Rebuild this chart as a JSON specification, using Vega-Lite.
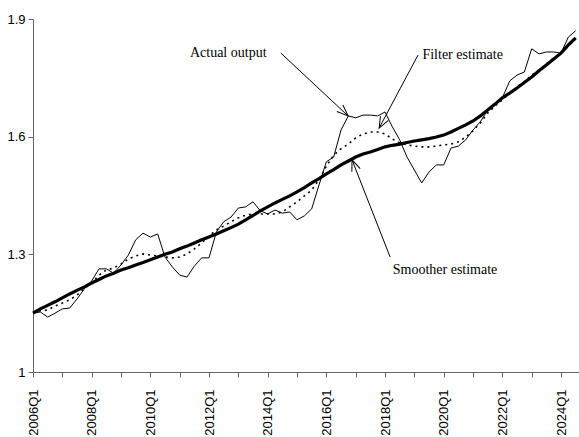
{
  "$schema": "https://vega.github.io/schema/vega-lite/v6.json",
  "autosize": {"type": "none"},
  "width": 546,
  "height": 353,
  "padding": {"left": 33, "top": 19, "right": 0, "bottom": 65},
  "background": "white",
  "config": {
    "view": {"stroke": null},
    "axis": {"grid": false, "labelFont": "Liberation Sans", "labelFontSize": 13, "labelColor": "black", "domainColor": "#666", "tickColor": "#666", "title": null}
  },
  "datasets": {
    "series": [
      {"q": "2006Q1", "t": 0, "actual": 1.150, "filter": 1.153, "smoother": 1.150},
      {"q": "2006Q2", "t": 1, "actual": 1.153, "filter": 1.156, "smoother": 1.161},
      {"q": "2006Q3", "t": 2, "actual": 1.140, "filter": 1.158, "smoother": 1.170},
      {"q": "2006Q4", "t": 3, "actual": 1.150, "filter": 1.168, "smoother": 1.179},
      {"q": "2007Q1", "t": 4, "actual": 1.161, "filter": 1.176, "smoother": 1.189},
      {"q": "2007Q2", "t": 5, "actual": 1.163, "filter": 1.184, "smoother": 1.199},
      {"q": "2007Q3", "t": 6, "actual": 1.186, "filter": 1.196, "smoother": 1.208},
      {"q": "2007Q4", "t": 7, "actual": 1.212, "filter": 1.212, "smoother": 1.217},
      {"q": "2008Q1", "t": 8, "actual": 1.232, "filter": 1.227, "smoother": 1.227},
      {"q": "2008Q2", "t": 9, "actual": 1.263, "filter": 1.247, "smoother": 1.236},
      {"q": "2008Q3", "t": 10, "actual": 1.263, "filter": 1.260, "smoother": 1.245},
      {"q": "2008Q4", "t": 11, "actual": 1.252, "filter": 1.265, "smoother": 1.252},
      {"q": "2009Q1", "t": 12, "actual": 1.273, "filter": 1.275, "smoother": 1.260},
      {"q": "2009Q2", "t": 13, "actual": 1.298, "filter": 1.288, "smoother": 1.266},
      {"q": "2009Q3", "t": 14, "actual": 1.337, "filter": 1.296, "smoother": 1.273},
      {"q": "2009Q4", "t": 15, "actual": 1.354, "filter": 1.301, "smoother": 1.279},
      {"q": "2010Q1", "t": 16, "actual": 1.344, "filter": 1.298, "smoother": 1.286},
      {"q": "2010Q2", "t": 17, "actual": 1.352, "filter": 1.296, "smoother": 1.293},
      {"q": "2010Q3", "t": 18, "actual": 1.293, "filter": 1.293, "smoother": 1.300},
      {"q": "2010Q4", "t": 19, "actual": 1.268, "filter": 1.291, "smoother": 1.306},
      {"q": "2011Q1", "t": 20, "actual": 1.247, "filter": 1.293, "smoother": 1.314},
      {"q": "2011Q2", "t": 21, "actual": 1.242, "filter": 1.301, "smoother": 1.321},
      {"q": "2011Q3", "t": 22, "actual": 1.270, "filter": 1.314, "smoother": 1.329},
      {"q": "2011Q4", "t": 23, "actual": 1.291, "filter": 1.329, "smoother": 1.337},
      {"q": "2012Q1", "t": 24, "actual": 1.291, "filter": 1.347, "smoother": 1.344},
      {"q": "2012Q2", "t": 25, "actual": 1.357, "filter": 1.362, "smoother": 1.352},
      {"q": "2012Q3", "t": 26, "actual": 1.383, "filter": 1.372, "smoother": 1.360},
      {"q": "2012Q4", "t": 27, "actual": 1.395, "filter": 1.383, "smoother": 1.368},
      {"q": "2013Q1", "t": 28, "actual": 1.418, "filter": 1.393, "smoother": 1.377},
      {"q": "2013Q2", "t": 29, "actual": 1.421, "filter": 1.400, "smoother": 1.388},
      {"q": "2013Q3", "t": 30, "actual": 1.434, "filter": 1.403, "smoother": 1.399},
      {"q": "2013Q4", "t": 31, "actual": 1.411, "filter": 1.403, "smoother": 1.411},
      {"q": "2014Q1", "t": 32, "actual": 1.403, "filter": 1.403, "smoother": 1.421},
      {"q": "2014Q2", "t": 33, "actual": 1.413, "filter": 1.403, "smoother": 1.431},
      {"q": "2014Q3", "t": 34, "actual": 1.405, "filter": 1.408, "smoother": 1.440},
      {"q": "2014Q4", "t": 35, "actual": 1.408, "filter": 1.421, "smoother": 1.449},
      {"q": "2015Q1", "t": 36, "actual": 1.388, "filter": 1.434, "smoother": 1.459},
      {"q": "2015Q2", "t": 37, "actual": 1.398, "filter": 1.449, "smoother": 1.470},
      {"q": "2015Q3", "t": 38, "actual": 1.416, "filter": 1.464, "smoother": 1.482},
      {"q": "2015Q4", "t": 39, "actual": 1.477, "filter": 1.490, "smoother": 1.493},
      {"q": "2016Q1", "t": 40, "actual": 1.536, "filter": 1.525, "smoother": 1.505},
      {"q": "2016Q2", "t": 41, "actual": 1.548, "filter": 1.553, "smoother": 1.516},
      {"q": "2016Q3", "t": 42, "actual": 1.617, "filter": 1.569, "smoother": 1.528},
      {"q": "2016Q4", "t": 43, "actual": 1.653, "filter": 1.581, "smoother": 1.538},
      {"q": "2017Q1", "t": 44, "actual": 1.648, "filter": 1.597, "smoother": 1.548},
      {"q": "2017Q2", "t": 45, "actual": 1.655, "filter": 1.607, "smoother": 1.556},
      {"q": "2017Q3", "t": 46, "actual": 1.655, "filter": 1.612, "smoother": 1.561},
      {"q": "2017Q4", "t": 47, "actual": 1.653, "filter": 1.612, "smoother": 1.567},
      {"q": "2018Q1", "t": 48, "actual": 1.663, "filter": 1.607, "smoother": 1.574},
      {"q": "2018Q2", "t": 49, "actual": 1.625, "filter": 1.594, "smoother": 1.578},
      {"q": "2018Q3", "t": 50, "actual": 1.592, "filter": 1.584, "smoother": 1.581},
      {"q": "2018Q4", "t": 51, "actual": 1.548, "filter": 1.579, "smoother": 1.585},
      {"q": "2019Q1", "t": 52, "actual": 1.515, "filter": 1.576, "smoother": 1.589},
      {"q": "2019Q2", "t": 53, "actual": 1.482, "filter": 1.574, "smoother": 1.592},
      {"q": "2019Q3", "t": 54, "actual": 1.510, "filter": 1.574, "smoother": 1.595},
      {"q": "2019Q4", "t": 55, "actual": 1.528, "filter": 1.576, "smoother": 1.599},
      {"q": "2020Q1", "t": 56, "actual": 1.528, "filter": 1.579, "smoother": 1.604},
      {"q": "2020Q2", "t": 57, "actual": 1.571, "filter": 1.581, "smoother": 1.612},
      {"q": "2020Q3", "t": 58, "actual": 1.576, "filter": 1.587, "smoother": 1.621},
      {"q": "2020Q4", "t": 59, "actual": 1.592, "filter": 1.599, "smoother": 1.630},
      {"q": "2021Q1", "t": 60, "actual": 1.617, "filter": 1.615, "smoother": 1.640},
      {"q": "2021Q2", "t": 61, "actual": 1.638, "filter": 1.635, "smoother": 1.653},
      {"q": "2021Q3", "t": 62, "actual": 1.668, "filter": 1.660, "smoother": 1.668},
      {"q": "2021Q4", "t": 63, "actual": 1.683, "filter": 1.678, "smoother": 1.683},
      {"q": "2022Q1", "t": 64, "actual": 1.699, "filter": 1.694, "smoother": 1.699},
      {"q": "2022Q2", "t": 65, "actual": 1.742, "filter": 1.711, "smoother": 1.711},
      {"q": "2022Q3", "t": 66, "actual": 1.757, "filter": 1.727, "smoother": 1.724},
      {"q": "2022Q4", "t": 67, "actual": 1.765, "filter": 1.740, "smoother": 1.738},
      {"q": "2023Q1", "t": 68, "actual": 1.824, "filter": 1.757, "smoother": 1.752},
      {"q": "2023Q2", "t": 69, "actual": 1.811, "filter": 1.770, "smoother": 1.768},
      {"q": "2023Q3", "t": 70, "actual": 1.816, "filter": 1.785, "smoother": 1.783},
      {"q": "2023Q4", "t": 71, "actual": 1.816, "filter": 1.801, "smoother": 1.798},
      {"q": "2024Q1", "t": 72, "actual": 1.813, "filter": 1.813, "smoother": 1.813},
      {"q": "2024Q2", "t": 73, "actual": 1.854, "filter": 1.831, "smoother": 1.834},
      {"q": "2024Q3", "t": 74, "actual": 1.870, "filter": 1.849, "smoother": 1.852}
    ],
    "notes": [
      {"label": "Actual output", "tx": 21.4, "ty": 1.813, "ax1": 33.8, "ay1": 1.813, "ax2": 42.96, "ay2": 1.653, "angle": 133},
      {"label": "Filter estimate", "tx": 53.1, "ty": 1.808, "ax1": 52.5, "ay1": 1.808, "ax2": 47.2, "ay2": 1.622, "angle": 208},
      {"label": "Smoother estimate", "tx": 49.05, "ty": 1.260, "ax1": 48.7, "ay1": 1.293, "ax2": 43.5, "ay2": 1.541, "angle": -21}
    ]
  },
  "encoding": {
    "x": {"type": "quantitative", "scale": {"domain": [0, 74.45], "nice": false, "zero": false},
          "axis": {"values": [0,4,8,12,16,20,24,28,32,36,40,44,48,52,56,60,64,68,72], "labelExpr": "datum.value % 8 == 0 ? (2006 + datum.value / 4) + 'Q1' : ''", "labelAngle": -90, "labelPadding": 12, "tickSize": 5, "labelFlush": false, "labelOverlap": false, "labelBound": false}},
    "y": {"type": "quantitative", "scale": {"domain": [1, 1.9], "nice": false, "zero": false},
          "axis": {"values": [1, 1.3, 1.6, 1.9], "format": "~g", "tickSize": 5, "labelPadding": 3, "labelFlush": false}}
  },
  "layer": [
    {"data": {"name": "series"}, "mark": {"type": "line", "color": "black", "strokeWidth": 1}, "encoding": {"x": {"field": "t"}, "y": {"field": "actual"}}},
    {"data": {"name": "series"}, "mark": {"type": "line", "color": "black", "strokeWidth": 1.6, "strokeDash": [2, 4]}, "encoding": {"x": {"field": "t"}, "y": {"field": "filter"}}},
    {"data": {"name": "series"}, "mark": {"type": "line", "color": "black", "strokeWidth": 3.2}, "encoding": {"x": {"field": "t"}, "y": {"field": "smoother"}}},
    {"data": {"name": "notes"}, "mark": {"type": "rule", "color": "black", "strokeWidth": 1}, "encoding": {"x": {"field": "ax1"}, "y": {"field": "ay1"}, "x2": {"field": "ax2"}, "y2": {"field": "ay2"}}},
    {"data": {"name": "notes"}, "mark": {"type": "point", "shape": "M-0.4,1 L0,0 L0.4,1", "filled": false, "stroke": "black", "strokeWidth": 1, "size": 500, "opacity": 1}, "encoding": {"x": {"field": "ax2"}, "y": {"field": "ay2"}, "angle": {"field": "angle", "type": "quantitative", "scale": null}}},
    {"data": {"name": "notes"}, "mark": {"type": "text", "font": "Liberation Serif", "fontSize": 14, "align": "left", "baseline": "middle", "color": "black"}, "encoding": {"x": {"field": "tx"}, "y": {"field": "ty"}, "text": {"field": "label"}}}
  ]
}
